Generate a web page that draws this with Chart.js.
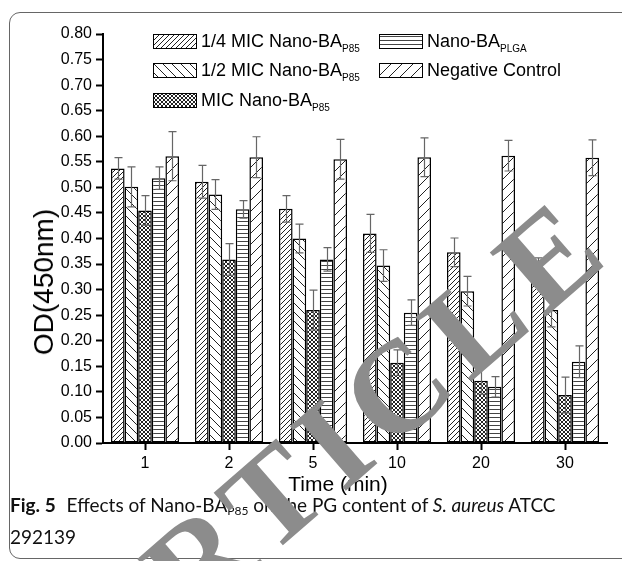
<!DOCTYPE html>
<html>
<head>
<meta charset="utf-8">
<script src="https://cdn.jsdelivr.net/npm/chart.js@4.4.1/dist/chart.umd.min.js"></script>
<style>
  html, body { margin: 0; padding: 0; background: #fff; }
  body { width: 622px; height: 561px; position: relative; overflow: hidden; font-family: "Liberation Sans", Arimo, Arial, Roboto, sans-serif; color: #000; }
  #frame { position: absolute; left: 9px; top: 12px; width: 700px; height: 545px; border: 1px solid #666; border-radius: 11px; }
  #plot { position: absolute; left: 0; top: 0; }
  .item { position: absolute; height: 17px; display: flex; align-items: center; white-space: nowrap; font-size: 18px; }
  .item canvas { display: block; margin-right: 4px; border: 1px solid #000; }
  .item sub { font-size: 10px; position: relative; top: 5px; vertical-align: baseline; }
  #ytitle { position: absolute; left: 44px; top: 282px; font-size: 28px; white-space: nowrap; transform: translate(-50%, -50%) rotate(-90deg); }
  #xtitle { position: absolute; left: 338px; top: 484px; font-size: 21px; white-space: nowrap; transform: translate(-50%, -50%); }
  #caption { position: absolute; left: 10px; top: 492px; font-family: Lato, "Open Sans", sans-serif; font-size: 19px; line-height: 26px; color: #111; white-space: nowrap; }
  #caption b { margin-right: 6px; }
  #caption sub { font-size: 12px; vertical-align: -3px; }
  #wm { position: absolute; left: 40px; top: 612px; transform-origin: 0 0; transform: rotate(-41deg); font-family: "Liberation Serif", Tinos, "Times New Roman", "DejaVu Serif", serif; font-weight: bold; font-size: 130px; letter-spacing: 12px; line-height: 1; color: #8c8c8c; white-space: nowrap; }
</style>
</head>
<body>
<div id="frame"></div>
<canvas id="plot" width="622" height="561"></canvas>
<div id="legend"></div>
<div id="ytitle">OD(450nm)</div>
<div id="xtitle">Time (min)</div>
<div id="caption"><b>Fig. 5</b> Effects of Nano-BA<sub>P85</sub> on the PG content of <i>S. aureus</i> ATCC<br>292139</div>
<div id="wm">ARTICLE</div>
<script>
// Dados
const timeLabels = ['1', '2', '5', '10', '20', '30'];

const quarterMic    = [0.537, 0.511, 0.458, 0.410, 0.373, 0.342];
const quarterMicErr = [0.021, 0.032, 0.026, 0.037, 0.028, 0.020];
const halfMic       = [0.501, 0.486, 0.400, 0.347, 0.297, 0.260];
const halfMicErr    = [0.039, 0.029, 0.028, 0.031, 0.029, 0.033];
const fullMic       = [0.455, 0.359, 0.260, 0.157, 0.122, 0.094];
const fullMicErr    = [0.029, 0.031, 0.039, 0.025, 0.027, 0.035];
const plga          = [0.518, 0.457, 0.359, 0.255, 0.110, 0.159];
const plgaErr       = [0.022, 0.017, 0.023, 0.025, 0.020, 0.031];
const negControl    = [0.561, 0.559, 0.555, 0.559, 0.562, 0.558];
const negControlErr = [0.048, 0.040, 0.039, 0.038, 0.030, 0.035];

const yTicks = { min: 0, max: 0.8, step: 0.05 };

const FONT = '"Liberation Sans", Arimo, Arial, Roboto, sans-serif';

// Padrões de hachura
function makePattern(kind) {
  const c = document.createElement('canvas');
  const g = c.getContext('2d');
  let s = 5;
  if (kind === 'back') s = 9;
  if (kind === 'cross') s = 4;
  if (kind === 'sparse') s = 11;
  c.width = s; c.height = s;
  if (kind === 'horiz') { c.width = 4; c.height = 4; }
  g.fillStyle = '#fff';
  g.fillRect(0, 0, c.width, c.height);
  g.strokeStyle = '#222';
  g.lineWidth = 1;
  g.beginPath();
  if (kind === 'fwd' || kind === 'sparse' || kind === 'cross') {
    for (const o of [-s, 0, s]) {
      g.moveTo(o - 1, s + 1); g.lineTo(o + s + 1, -1);
    }
  }
  if (kind === 'back' || kind === 'cross') {
    for (const o of [-s, 0, s]) {
      g.moveTo(o - 1, -1); g.lineTo(o + s + 1, s + 1);
    }
  }
  if (kind === 'horiz') {
    g.strokeStyle = '#444';
    g.moveTo(0, 1.5); g.lineTo(4, 1.5);
  }
  g.stroke();
  return g.createPattern(c, 'repeat');
}

const series = [
  { name: '1/4 MIC Nano-BA', sub: 'P85', data: quarterMic, err: quarterMicErr, fill: 'fwd' },
  { name: '1/2 MIC Nano-BA', sub: 'P85', data: halfMic, err: halfMicErr, fill: 'back' },
  { name: 'MIC Nano-BA', sub: 'P85', data: fullMic, err: fullMicErr, fill: 'cross' },
  { name: 'Nano-BA', sub: 'PLGA', data: plga, err: plgaErr, fill: 'horiz' },
  { name: 'Negative Control', sub: '', data: negControl, err: negControlErr, fill: 'sparse' }
];

// Barras de erro desenhadas pelas escalas do Chart.js
const errorBars = {
  id: 'errorBars',
  afterDatasetsDraw(chart) {
    const ctx = chart.ctx;
    const y = chart.scales.y;
    ctx.save();
    ctx.strokeStyle = '#666';
    ctx.lineWidth = 1.2;
    chart.data.datasets.forEach((ds, di) => {
      const meta = chart.getDatasetMeta(di);
      meta.data.forEach((bar, i) => {
        const v = ds.data[i];
        const e = ds.errors[i];
        const top = y.getPixelForValue(v + e);
        const bot = y.getPixelForValue(v - e);
        const x = Math.round(bar.x) + 0.5;
        ctx.beginPath();
        ctx.moveTo(x, top); ctx.lineTo(x, bot);
        ctx.moveTo(x - 4, top); ctx.lineTo(x + 4, top);
        ctx.moveTo(x - 4, bot); ctx.lineTo(x + 4, bot);
        ctx.stroke();
      });
    });
    ctx.restore();
  }
};

new Chart(document.getElementById('plot'), {
  type: 'bar',
  data: {
    labels: timeLabels,
    datasets: series.map(s => ({
      label: s.name + (s.sub ? ' ' + s.sub : ''),
      data: s.data,
      errors: s.err,
      backgroundColor: makePattern(s.fill),
      borderColor: '#000',
      borderWidth: 1.5,
      borderSkipped: false,
      categoryPercentage: 0.81,
      barPercentage: 1
    }))
  },
  options: {
    responsive: false,
    animation: false,
    devicePixelRatio: 1,
    layout: { autoPadding: false, padding: { left: 0, top: 34, right: 15, bottom: 88 } },
    scales: {
      x: {
        afterFit: s => { s.height = 30; },
        grid: { drawOnChartArea: false, offset: false, drawTicks: true, tickLength: 7, tickWidth: 2, tickColor: '#000' },
        border: { color: '#000', width: 2 },
        ticks: { color: '#000', font: { size: 16, family: FONT }, padding: 4 }
      },
      y: {
        min: yTicks.min,
        max: yTicks.max,
        afterFit: s => { s.width = 103; },
        grid: { drawOnChartArea: false, drawTicks: true, tickLength: 7, tickWidth: 2, tickColor: '#000' },
        border: { color: '#000', width: 2 },
        ticks: {
          stepSize: yTicks.step,
          color: '#000',
          padding: 4,
          font: { size: 16, family: FONT },
          callback: v => v.toFixed(2)
        }
      }
    },
    plugins: { legend: { display: false }, tooltip: { enabled: false } }
  },
  plugins: [errorBars]
});

// Legenda (HTML, com subscritos)
const legendPos = [[153, 33], [153, 62], [153, 92], [379, 33], [379, 62]];
const legend = document.getElementById('legend');
series.forEach((s, i) => {
  const item = document.createElement('div');
  item.className = 'item';
  item.style.left = legendPos[i][0] + 'px';
  item.style.top = legendPos[i][1] + 'px';
  const sw = document.createElement('canvas');
  sw.width = 42; sw.height = 13;
  const g = sw.getContext('2d');
  g.fillStyle = makePattern(s.fill);
  g.fillRect(0, 0, 42, 13);
  item.appendChild(sw);
  const txt = document.createElement('span');
  txt.innerHTML = s.name + (s.sub ? '<sub>' + s.sub + '</sub>' : '');
  item.appendChild(txt);
  legend.appendChild(item);
});
</script>
</body>
</html>
